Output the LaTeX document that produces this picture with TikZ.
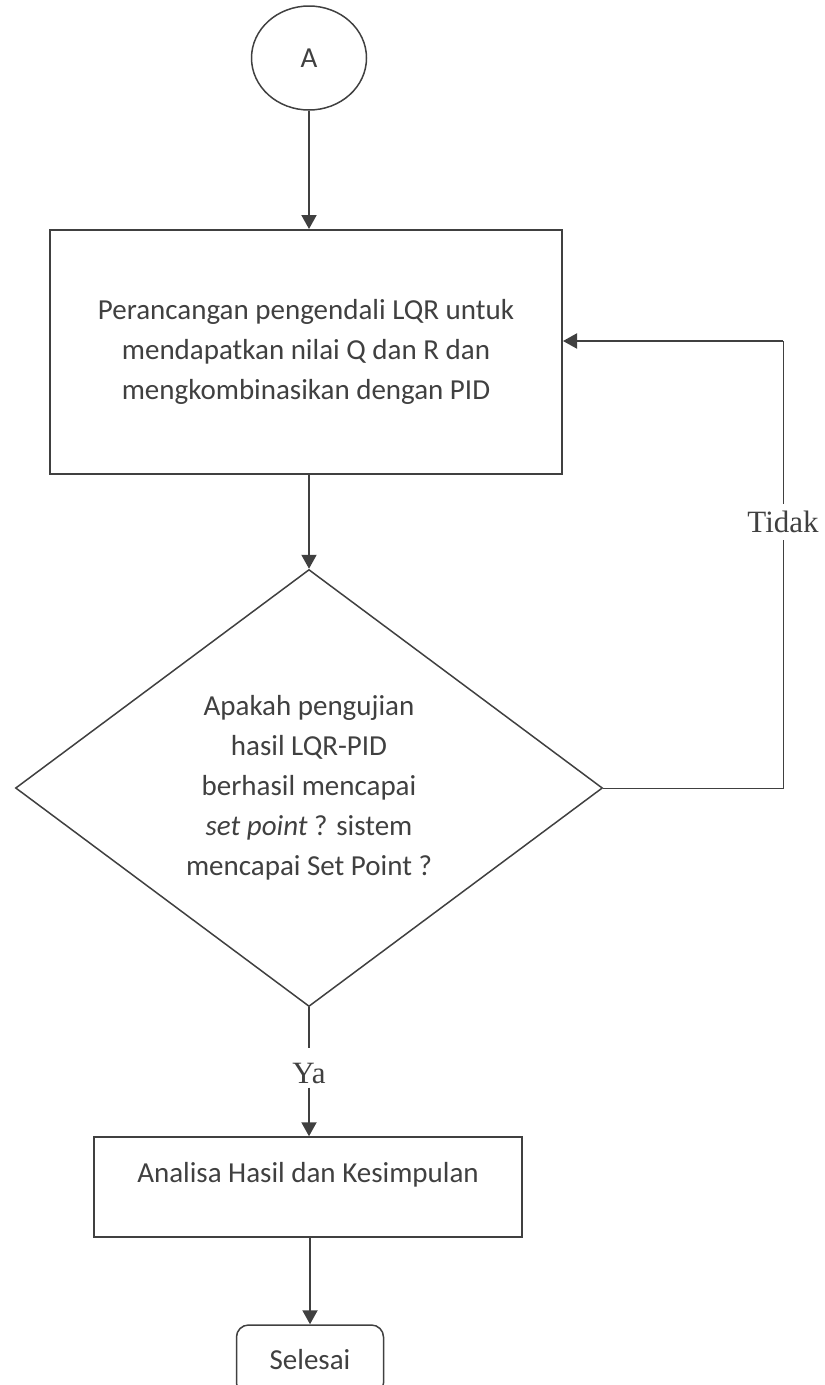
\documentclass[tikz,border=0pt]{standalone}
\usepackage{xcolor}
\usepackage{fontspec}
\setmainfont{Carlito}
\newfontfamily\labelfont{Liberation Serif}
\usetikzlibrary{shapes.geometric,arrows.meta}
\definecolor{ink}{HTML}{404040}

\begin{document}
\begin{tikzpicture}[x=1pt,y=-1pt]
        \useasboundingbox (0,0) rectangle (825,1385);
        \tikzstyle{every node}=[draw=ink, text=ink, line width=1.5pt, font=\fontsize{29}{40}\selectfont]
        \node[ellipse, minimum width=115pt, minimum height=104pt] (start) at (309,58) {A};
        \node[rectangle, line width=2pt, minimum width=512pt, minimum height=244pt, align=center] (design) at (306,352)
            {Perancangan pengendali LQR untuk\\ mendapatkan nilai Q dan R dan\\ mengkombinasikan dengan PID};
        \node[diamond, minimum width=587pt, minimum height=437pt, aspect=1.34, align=center] (test) at (309,788)
            {Apakah pengujian\\ hasil LQR-PID\\ berhasil mencapai\\ {\itshape set point} ? sistem\\ mencapai Set Point ?};
        \node[rectangle, minimum width=428pt, minimum height=100pt, text depth=30pt] (analysis) at (308,1187)
            {Analisa Hasil dan Kesimpulan};
        \node[rectangle, rounded corners=12pt, minimum width=147pt, minimum height=70pt] (finish) at (310,1360) {Selesai};
        \tikzstyle{every node}=[text=ink, font=\labelfont\fontsize{31}{36}\selectfont, inner xsep=0pt]
        \node[inner ysep=7pt] (no)  at (783,522)  {Tidak};
        \node[inner ysep=4pt] (yes) at (309,1073) {Ya};
        \coordinate (loop) at (783,341);
        \tikzstyle{every path}=[draw=ink, line width=2pt, -{Triangle[width=15pt,length=14pt]}]
        \draw (start.south |- start.south) -- (start.south |- design.north);
        \draw (design.south -| test.north) -- (test.north);
        \draw[-, line width=1pt] (test.east) -| (no.south);
        \draw[-, line width=1pt] (no.north) -- (loop);
        \draw (loop) -- (loop -| design.east);
        \draw[-, line width=1.2pt] (test.south) -- ([yshift=11pt]yes.north);
        \draw (yes.south) -- (yes.south |- analysis.north);
        \draw (finish.north |- analysis.south) -- (finish.north);
    \end{tikzpicture}
\end{document}
